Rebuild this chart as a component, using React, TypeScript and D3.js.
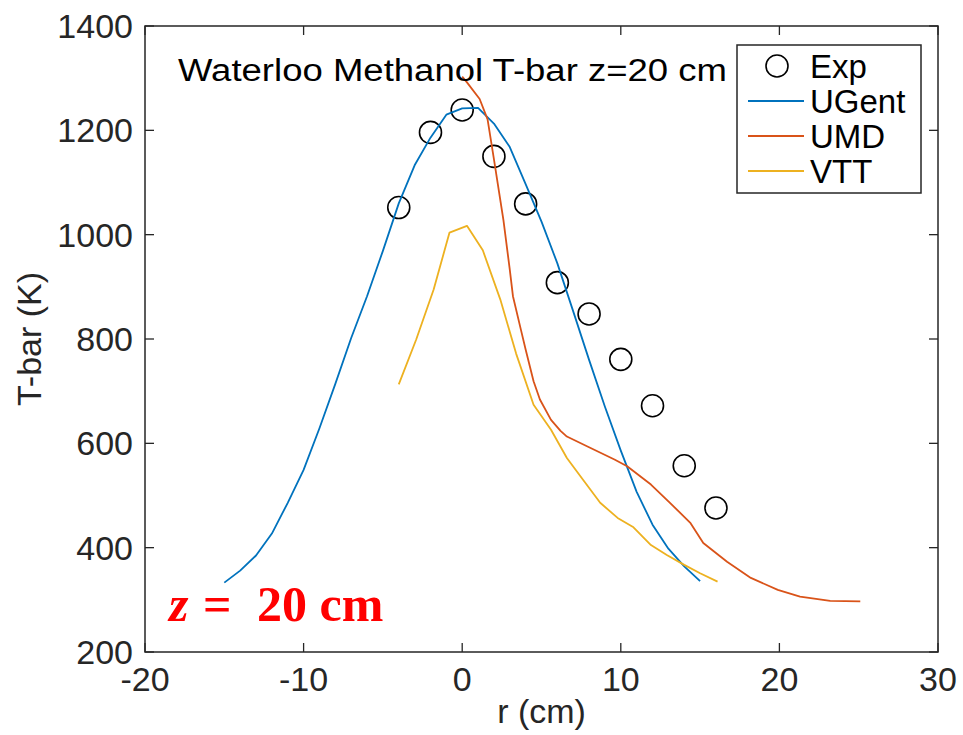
import { useEffect, useRef } from "react";
import * as d3 from "d3";

// experimental points
const expR = [-4, -2, 0, 2, 4, 6, 8, 10, 12, 14, 16];
const expT = [1052, 1196, 1239, 1150, 1059, 908, 848, 761, 672, 557, 476];

// UGent
const ugentR = [-15, -14, -13, -12, -11, -10, -9, -8, -7, -6, -5, -4, -3, -2, -1, 0, 1, 2, 3, 4, 5, 6, 7, 8, 9, 10, 11, 12, 13, 14, 15];
const ugentT = [333, 356, 385, 427, 486, 549, 629, 714, 802, 882, 969, 1060, 1133, 1186, 1230, 1242, 1243, 1213, 1168, 1097, 1025, 945, 853, 760, 670, 586, 507, 444, 398, 364, 336];

// UMD
const umdR = [0.0, 0.3, 1.1, 1.6, 2.0, 2.6, 3.0, 3.2, 3.7, 4.0, 4.5, 4.9, 5.6, 6.2, 6.6, 7.9, 9.6, 10.4, 11.9, 13.1, 14.4, 15.2, 16.7, 18.2, 19.9, 21.3, 23.2, 25.1];
const umdT = [1303, 1292, 1260, 1221, 1145, 1028, 933, 882, 818, 780, 719, 684, 645, 624, 613, 594, 569, 556, 521, 486, 447, 409, 373, 342, 319, 306, 298, 297];

// VTT
const vttR = [-4.0, -2.9, -1.8, -0.8, 0.3, 1.3, 2.4, 3.4, 4.5, 5.6, 6.6, 7.7, 8.7, 9.8, 10.8, 11.9, 12.9, 14.0, 15.0, 16.1];
const vttT = [713, 799, 895, 1004, 1017, 970, 876, 772, 674, 626, 572, 527, 486, 457, 439, 405, 386, 367, 351, 335];

const xTicks = [-20, -10, 0, 10, 20, 30];
const yTicks = [200, 400, 600, 800, 1000, 1200, 1400];

const seriesNames = ["UGent", "UMD", "VTT"];
const seriesColors = ["#0072BD", "#D95319", "#EDB120"];

export default function App() {
  const svgRef = useRef<SVGSVGElement | null>(null);

  const width = 963;
  const height = 735;
  const axisColor = "#262626";
  const font = "'Liberation Sans', Arial, Helvetica, sans-serif";

  useEffect(() => {
    const svg = d3.select(svgRef.current);
    svg.selectAll("*").remove();

    const x = d3.scaleLinear().domain([-20, 30]).range([145, 938]);
    const y = d3.scaleLinear().domain([200, 1400]).range([652, 26]);

    svg.append("rect").attr("width", width).attr("height", height).attr("fill", "white");

    // ticks inside the box, on all four sides
    const tickLen = 9;
    const g = svg.append("g").attr("stroke", axisColor).attr("stroke-width", 1.3);
    xTicks.forEach((t) => {
      g.append("line").attr("x1", x(t)).attr("x2", x(t)).attr("y1", y(200)).attr("y2", y(200) - tickLen);
      g.append("line").attr("x1", x(t)).attr("x2", x(t)).attr("y1", y(1400)).attr("y2", y(1400) + tickLen);
    });
    yTicks.forEach((t) => {
      g.append("line").attr("x1", x(-20)).attr("x2", x(-20) + tickLen).attr("y1", y(t)).attr("y2", y(t));
      g.append("line").attr("x1", x(30)).attr("x2", x(30) - tickLen).attr("y1", y(t)).attr("y2", y(t));
    });

    // tick labels
    svg.append("g")
      .selectAll("text")
      .data(xTicks)
      .join("text")
      .attr("x", (d) => x(d))
      .attr("y", 691)
      .attr("text-anchor", "middle")
      .attr("font-family", font)
      .attr("font-size", 34)
      .attr("fill", axisColor)
      .text((d) => d);

    svg.append("g")
      .selectAll("text")
      .data(yTicks)
      .join("text")
      .attr("x", 133)
      .attr("y", (d) => y(d))
      .attr("dy", "0.35em")
      .attr("text-anchor", "end")
      .attr("font-family", font)
      .attr("font-size", 34)
      .attr("fill", axisColor)
      .text((d) => d);

    // axis titles
    svg.append("text")
      .attr("x", (x(-20) + x(30)) / 2)
      .attr("y", 723)
      .attr("text-anchor", "middle")
      .attr("font-family", font)
      .attr("font-size", 34)
      .attr("fill", axisColor)
      .text("r (cm)");

    svg.append("text")
      .attr("transform", `translate(41,${(y(200) + y(1400)) / 2}) rotate(-90)`)
      .attr("text-anchor", "middle")
      .attr("font-family", font)
      .attr("font-size", 34)
      .attr("fill", axisColor)
      .text("T-bar (K)");

    // experimental circles
    svg.append("g")
      .selectAll("circle")
      .data(expR.map((r, i) => [r, expT[i]]))
      .join("circle")
      .attr("cx", (d) => x(d[0]))
      .attr("cy", (d) => y(d[1]))
      .attr("r", 11)
      .attr("fill", "none")
      .attr("stroke", "black")
      .attr("stroke-width", 1.6);

    const line = d3.line<number[]>().x((d) => x(d[0])).y((d) => y(d[1]));
    const series = [
      ugentR.map((r, i) => [r, ugentT[i]]),
      umdR.map((r, i) => [r, umdT[i]]),
      vttR.map((r, i) => [r, vttT[i]]),
    ];
    series.forEach((s, i) => {
      svg.append("path")
        .attr("d", line(s))
        .attr("fill", "none")
        .attr("stroke", seriesColors[i])
        .attr("stroke-width", 1.8)
        .attr("stroke-linejoin", "round");
    });

    // box
    svg.append("rect")
      .attr("x", x(-20))
      .attr("y", y(1400))
      .attr("width", x(30) - x(-20))
      .attr("height", y(200) - y(1400))
      .attr("fill", "none")
      .attr("stroke", axisColor)
      .attr("stroke-width", 1.5);

    // title text inside plot
    svg.append("text")
      .attr("x", 178)
      .attr("y", 81)
      .attr("font-family", font)
      .attr("font-size", 31)
      .attr("textLength", 549)
      .attr("lengthAdjust", "spacingAndGlyphs")
      .attr("fill", "black")
      .text("Waterloo Methanol T-bar z=20 cm");

    // legend
    const lg = svg.append("g");
    lg.append("rect")
      .attr("x", 737)
      .attr("y", 45)
      .attr("width", 184)
      .attr("height", 148)
      .attr("fill", "white")
      .attr("stroke", axisColor)
      .attr("stroke-width", 1.5);
    lg.append("circle")
      .attr("cx", 777)
      .attr("cy", 66)
      .attr("r", 11)
      .attr("fill", "none")
      .attr("stroke", "black")
      .attr("stroke-width", 1.6);
    const labels = ["Exp", ...seriesNames];
    labels.forEach((name, i) => {
      const cy = 66 + i * 35;
      if (i > 0) {
        lg.append("line")
          .attr("x1", 748)
          .attr("x2", 804)
          .attr("y1", cy)
          .attr("y2", cy)
          .attr("stroke", seriesColors[i - 1])
          .attr("stroke-width", 1.8);
      }
      lg.append("text")
        .attr("x", 810)
        .attr("y", cy)
        .attr("dy", "0.36em")
        .attr("font-family", font)
        .attr("font-size", 33)
        .attr("fill", "black")
        .text(name);
    });

    // red annotation
    const ann = svg.append("text")
      .attr("y", 621)
      .attr("font-family", "'Liberation Serif', 'Times New Roman', serif")
      .attr("font-weight", "bold")
      .attr("font-size", 50)
      .attr("fill", "red");
    ann.append("tspan").attr("x", 169).attr("font-style", "italic").text("z");
    ann.append("tspan").attr("x", 203).text("=");
    ann.append("tspan").attr("x", 257).text("20 cm");
  }, []);

  return (
    <svg
      ref={svgRef}
      width={width}
      height={height}
      viewBox={`0 0 ${width} ${height}`}
      style={{ position: "absolute", left: 0, top: 0 }}
    />
  );
}
